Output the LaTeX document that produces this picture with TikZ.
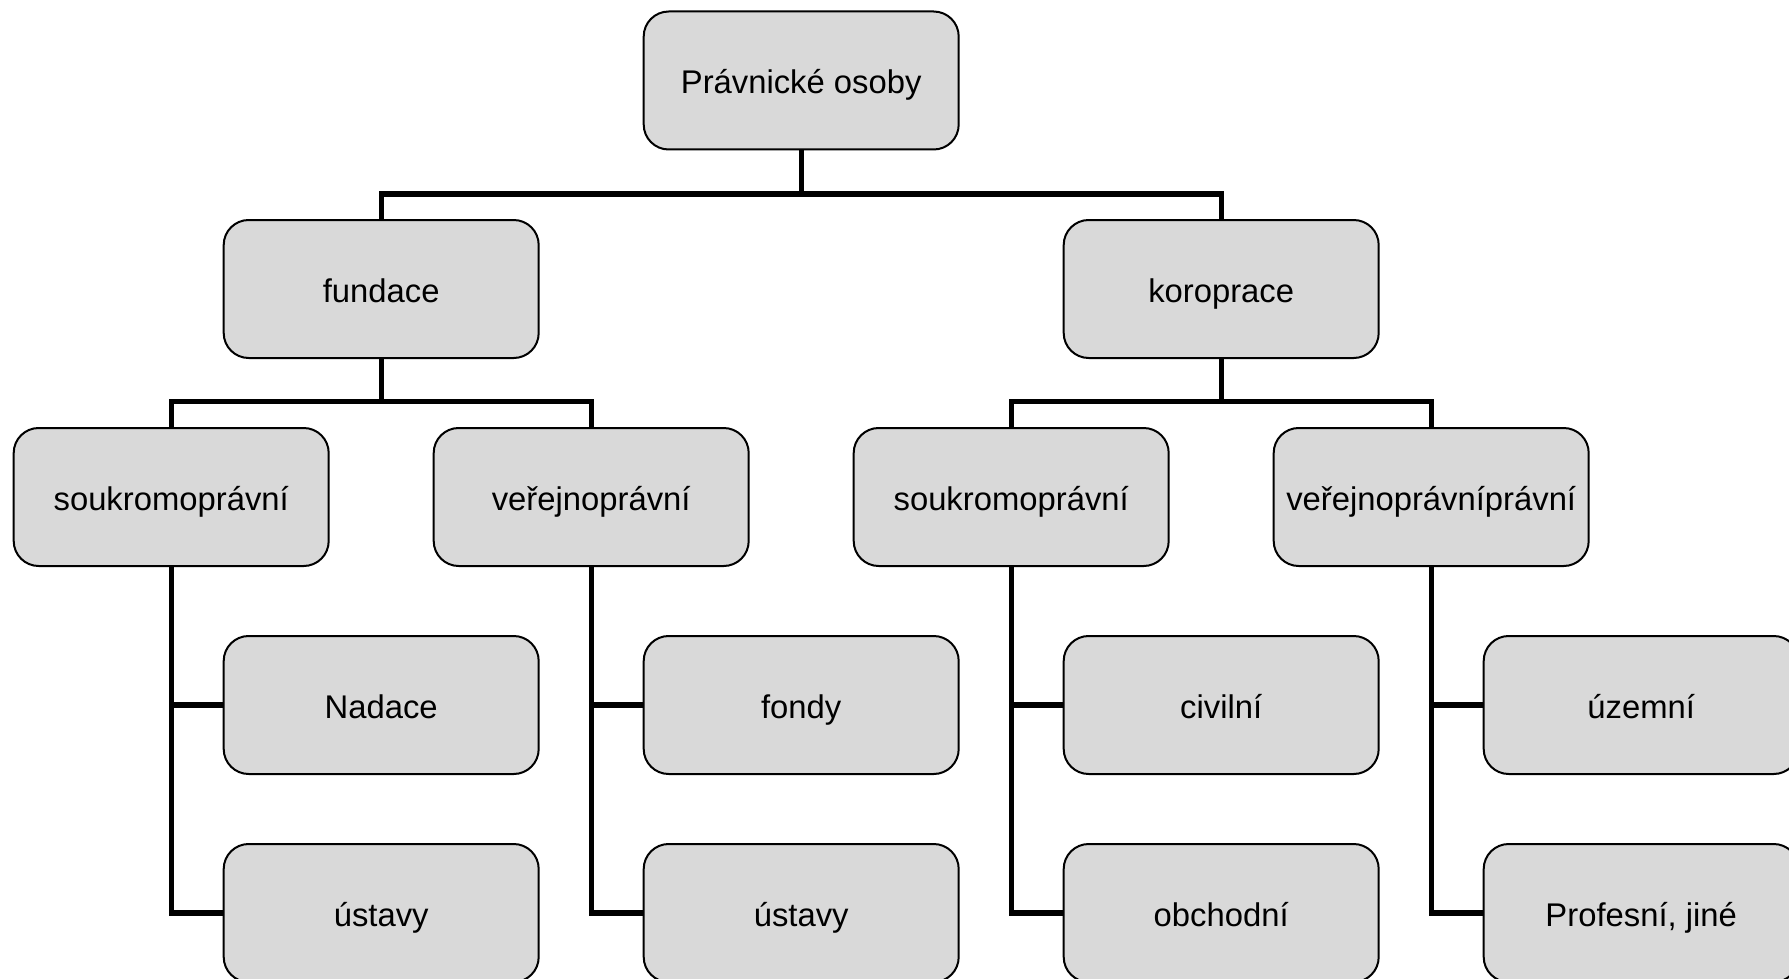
\documentclass[tikz,border=0pt]{standalone}
\usepackage{fontspec}
\setmainfont{Liberation Sans}
\begin{document}
\begin{tikzpicture}[x=0.5pt,y=-0.5pt,
  box/.style={draw=black,line width=1pt,fill=boxgray,rounded corners=12.5pt,
    minimum width=157.5pt,minimum height=69pt,inner sep=0pt,
    text height=15pt,text depth=1.5pt,font=\fontsize{16.4}{18}\selectfont},
  conn/.style={draw=black,line width=2.6pt}]
\definecolor{boxgray}{HTML}{D9D9D9}
\useasboundingbox (0,0) rectangle (1789,979);
% nodes
\node[box] (top) at (801.2,80.5) {Právnické osoby};
\node[box] (fund) at (381.2,289) {fundace};
\node[box] (kor) at (1221.2,289) {koroprace};
\node[box] (s1) at (171.2,497) {soukromoprávní};
\node[box] (v1) at (591.2,497) {veřejnoprávní};
\node[box] (s2) at (1011.2,497) {soukromoprávní};
\node[box] (v2) at (1431.2,497) {veřejnoprávníprávní};
\node[box] (n1) at (381.2,705) {Nadace};
\node[box] (u1) at (381.2,913) {ústavy};
\node[box] (f2) at (801.2,705) {fondy};
\node[box] (u2) at (801.2,913) {ústavy};
\node[box] (c3) at (1221.2,705) {civilní};
\node[box] (o3) at (1221.2,913) {obchodní};
\node[box] (z4) at (1641.2,705) {územní};
\node[box] (p4) at (1641.2,913) {Profesní, jiné};
% bar coordinates
\coordinate (b0) at (801.2,194);
\coordinate (bf) at (381.2,401.6);
\coordinate (bk) at (1221.2,401.6);
% connectors
\draw[conn] (top.south) -- (b0);
\draw[conn] (fund.north) |- (b0) -| (kor.north);
\draw[conn] (fund.south) -- (bf);
\draw[conn] (s1.north) |- (bf) -| (v1.north);
\draw[conn] (kor.south) -- (bk);
\draw[conn] (s2.north) |- (bk) -| (v2.north);
\draw[conn] (s1.south) |- (n1.west);
\draw[conn] (s1.south) |- (u1.west);
\draw[conn] (v1.south) |- (f2.west);
\draw[conn] (v1.south) |- (u2.west);
\draw[conn] (s2.south) |- (c3.west);
\draw[conn] (s2.south) |- (o3.west);
\draw[conn] (v2.south) |- (z4.west);
\draw[conn] (v2.south) |- (p4.west);
\end{tikzpicture}
\end{document}
